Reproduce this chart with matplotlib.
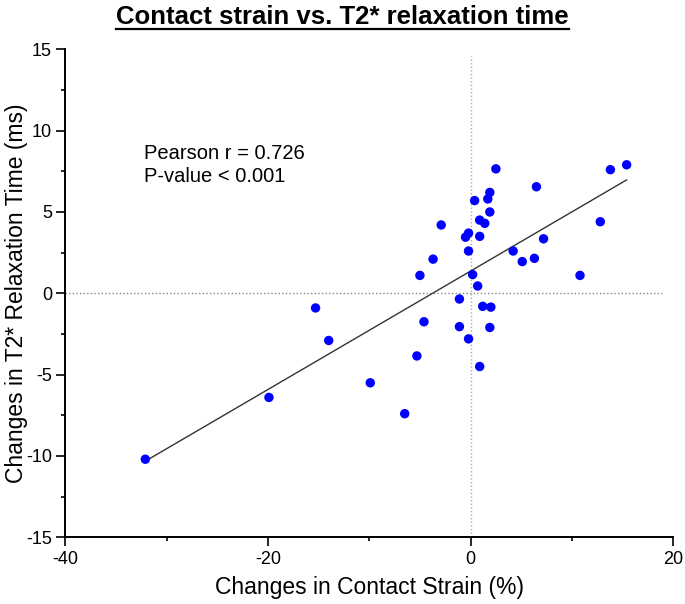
import numpy as np
import matplotlib
matplotlib.use('Agg')
import matplotlib.pyplot as plt
from matplotlib.lines import Line2D
from matplotlib.ticker import MultipleLocator

plt.rcParams['axes.unicode_minus'] = False

# Changes in contact strain (%) and T2* relaxation time (ms)
strain = np.array([
    -32.1, -19.9, -15.3, -14.0, -9.9, -6.5, -5.3,
    6.5, 13.8, 15.4, 12.8, 7.2, 6.3, 10.8,
    2.5, 1.9, 1.7, 0.4, 1.9, 0.9, 1.4, -2.9, -0.2, -0.5, 0.9, -0.2,
    4.2, -3.7, 5.1, -5.0, 0.2, 0.7,
    -1.1, 1.2, 2.0, -4.6, -1.1, 1.9, -0.2, 0.9,
])
t2_change = np.array([
    -10.2, -6.4, -0.9, -2.9, -5.5, -7.4, -3.85,
    6.55, 7.6, 7.9, 4.4, 3.35, 2.15, 1.1,
    7.65, 6.2, 5.8, 5.7, 5.0, 4.5, 4.3, 4.2, 3.7, 3.45, 3.5, 2.6,
    2.6, 2.1, 1.95, 1.1, 1.15, 0.45,
    -0.35, -0.8, -0.85, -1.75, -2.05, -2.1, -2.8, -4.5,
])

x_ticks = [-40, -20, 0, 20]
y_ticks = [-15, -10, -5, 0, 5, 10, 15]

fit = np.polyfit(strain, t2_change, 1)
fit_x = np.array([strain.min(), strain.max()])
fit_y = np.polyval(fit, fit_x)

fig = plt.figure(figsize=(6.85, 6.04), dpi=100)
ax = fig.add_axes([0.0953, 0.1104, 0.8875, 0.808])

# reference lines at zero
ax.plot([-40, 18.9], [0, 0], color='#888888', lw=1, ls=(0, (1, 1.6)), zorder=1)
ax.plot([0, 0], [-15, 14.6], color='#aaaaaa', lw=1, ls=(0, (1, 1.6)), zorder=1)

ax.plot(fit_x, fit_y, color='#333333', lw=1, zorder=2)
ax.scatter(strain, t2_change, s=46, color='#0000ff', edgecolors='none', zorder=3)

ax.set_xlim(-40, 20)
ax.set_ylim(-15, 15)
ax.set_xticks(x_ticks)
ax.set_yticks(y_ticks)
ax.xaxis.set_minor_locator(MultipleLocator(10))
ax.yaxis.set_minor_locator(MultipleLocator(2.5))

for s in ['top', 'right']:
    ax.spines[s].set_visible(False)
for s in ['left', 'bottom']:
    ax.spines[s].set_linewidth(1.4)

ax.tick_params(which='major', direction='out', length=6.5, width=1.2,
               labelsize=13, pad=3)
ax.tick_params(which='minor', direction='out', length=3.2, width=1.2)
for lab in ax.get_xticklabels() + ax.get_yticklabels():
    lab.set_family('Liberation Sans')

ax.set_xlabel('Changes in Contact Strain (%)', family='Liberation Sans',
              fontsize=16.5)
ax.set_ylabel('Changes in T2* Relaxation Time (ms)', family='Liberation Sans',
              fontsize=16.5)
ax.xaxis.set_label_coords(0.5, -0.08)
ax.yaxis.set_label_coords(-0.062, 0.5)

ax.text(-32.2, 7.9, 'Pearson r = 0.726\nP-value < 0.001', family='Liberation Sans',
        fontsize=14.5, linespacing=1.25, va='center', ha='left')

title = fig.text(0.5, 0.992, 'Contact strain vs. T2* relaxation time',
                 family=['Liberation Sans Narrow', 'Liberation Sans'],
                 fontweight='bold', fontsize=18.5, ha='center', va='top')

# underline the title
fig.canvas.draw()
bb = title.get_window_extent().transformed(fig.transFigure.inverted())
uy = bb.y0 - 0.001
fig.add_artist(Line2D([bb.x0, bb.x1], [uy, uy], transform=fig.transFigure,
                      color='black', lw=1.6))

fig.savefig('out.png', dpi=100)
